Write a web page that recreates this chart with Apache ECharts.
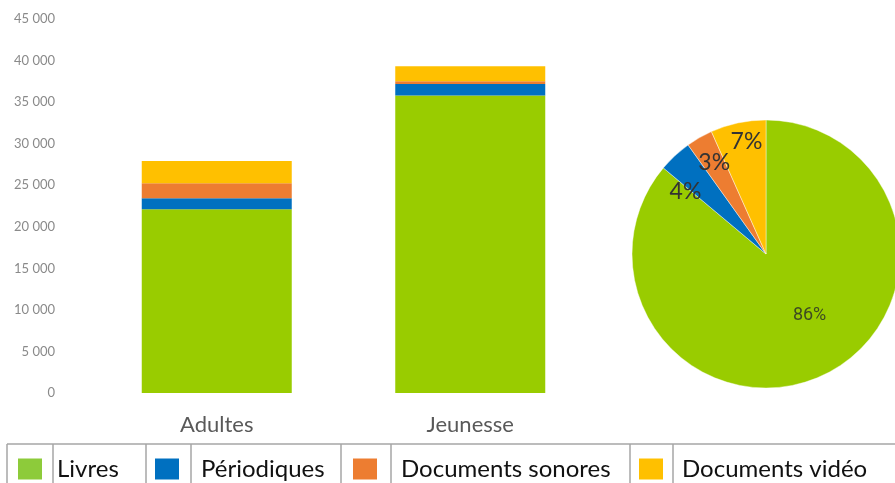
<!DOCTYPE html>
<html>
<head>
<meta charset="utf-8">
<script src="https://cdn.jsdelivr.net/npm/echarts@6/dist/echarts.min.js"></script>
<style>
html,body{margin:0;padding:0;background:#fff;}
#c{width:895px;height:483px;}
</style>
</head>
<body>
<div id="c"></div>
<script>
// ---- data ----
var categories = ['Adultes', 'Jeunesse'];
var seriesNames = ['Livres', 'Périodiques', 'Documents sonores', 'Documents vidéo'];
var livres = [22100, 35800];
var periodiques = [1330, 1370];
var sonores = [1800, 350];
var videos = [2690, 1800];
var yTicks = [0, 5000, 10000, 15000, 20000, 25000, 30000, 35000, 40000, 45000];

var colors = ['#99CC00', '#0070C0', '#ED7D31', '#FFC000'];
var legendColors = ['#8DCB3A', '#0070C0', '#ED7D31', '#FFC000'];
var allValues = [livres, periodiques, sonores, videos];

function sum(a) { return a.reduce(function (s, v) { return s + v; }, 0); }
function fmt(v) { return String(v).replace(/\B(?=(\d{3})+(?!\d))/g, ' '); }

var pieCenter = [766, 254];
// small nudges of the percentage labels away from ECharts' default inside position
var labelNudge = [[14, -2], [-33, -11], [-17, -31], [-5, -44]];

var barSeries = seriesNames.map(function (n, i) {
  return {
    name: n, type: 'bar', stack: 'total', barWidth: 150,
    itemStyle: { color: colors[i] },
    data: allValues[i]
  };
});

var pieSeries = {
  type: 'pie',
  center: pieCenter,
  radius: [0, 134],
  startAngle: 90,
  clockwise: true,
  avoidLabelOverlap: false,
  itemStyle: { borderColor: 'rgba(255,255,255,0.7)', borderWidth: 0.6 },
  label: {
    show: true, position: 'inside',
    formatter: function (p) { return Math.round(p.percent) + '%'; },
    color: '#333333', fontFamily: 'Lato', fontSize: 23
  },
  labelLine: { show: false },
  labelLayout: function (p) {
    var n = labelNudge[p.dataIndex];
    return { dx: n[0], dy: n[1] };
  },
  data: seriesNames.map(function (n, i) {
    var d = { name: n, value: sum(allValues[i]), itemStyle: { color: colors[i] } };
    if (i === 0) d.label = { fontSize: 18, fontFamily: 'Liberation Sans Narrow, Roboto', color: '#3d4a22' };
    return d;
  })
};

var legendLefts = [18, 155, 353, 639];
var legendTextGaps = [15, 22, 24, 19];
var legends = seriesNames.map(function (n, i) {
  return {
    data: [{ name: n, itemStyle: { color: legendColors[i] } }],
    left: legendLefts[i], top: 457, padding: 0,
    itemWidth: 24, itemHeight: 21,
    icon: 'rect',
    selectedMode: false,
    textStyle: {
      fontFamily: 'Lato', fontSize: 24, color: '#111111',
      padding: [2, 0, 0, legendTextGaps[i] - 5]
    }
  };
});

var borderX = [7, 53, 146, 191, 341, 391, 630, 673];
var graphics = [{
  type: 'line', shape: { x1: 7, y1: 444, x2: 895, y2: 444 },
  style: { stroke: '#a6a6a6', lineWidth: 1.5 }
}].concat(borderX.map(function (x) {
  return { type: 'line', shape: { x1: x, y1: 444, x2: x, y2: 490 }, style: { stroke: '#a6a6a6', lineWidth: 1.5 } };
}));

var chart = echarts.init(document.getElementById('c'), null, { renderer: 'canvas' });
chart.setOption({
  animation: false,
  backgroundColor: '#fff',
  grid: { left: 90, right: 298, top: 19, bottom: 90, containLabel: false },
  legend: legends,
  graphic: graphics,
  xAxis: {
    type: 'category', data: categories,
    axisLine: { show: false }, axisTick: { show: false },
    axisLabel: { margin: 21, fontFamily: 'Lato', fontSize: 22, color: '#595959' }
  },
  yAxis: {
    type: 'value', min: yTicks[0], max: yTicks[yTicks.length - 1], interval: yTicks[1] - yTicks[0],
    axisLine: { show: false }, axisTick: { show: false }, splitLine: { show: false },
    axisLabel: { margin: 35, fontFamily: 'Lato', fontSize: 13, color: '#8a8a8a', formatter: fmt }
  },
  series: barSeries.concat([pieSeries])
});
</script>
</body>
</html>
